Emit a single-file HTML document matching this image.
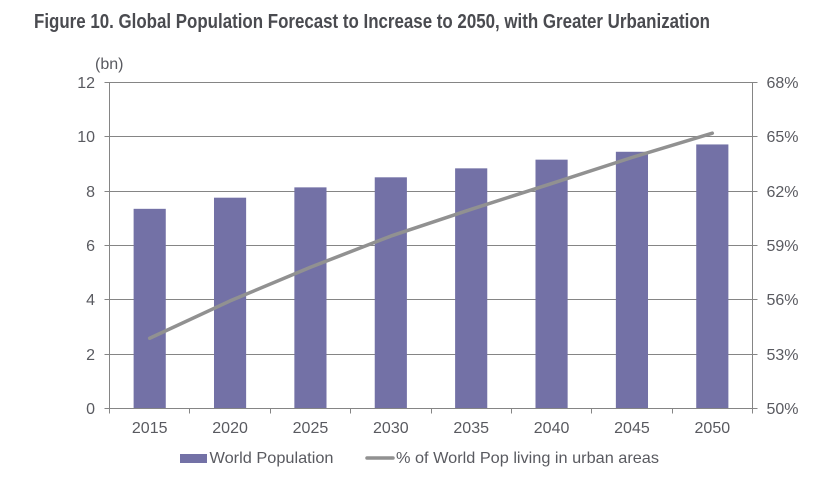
<!DOCTYPE html>
<html lang="en">
<head>
<meta charset="utf-8">
<title>Global Population Forecast</title>
<style>
html,body{margin:0;padding:0;background:#fff;width:820px;height:477px;overflow:hidden}
svg{display:block}
text{font-family:"Liberation Sans",Arial,sans-serif;fill:#595a60}
</style>
</head>
<body>
<svg id="chart" width="820" height="477" viewBox="0 0 820 477" xmlns="http://www.w3.org/2000/svg">
<text x="34" y="28" font-size="20" font-weight="bold" textLength="676" lengthAdjust="spacingAndGlyphs" style="fill:#4a4b50">Figure 10. Global Population Forecast to Increase to 2050, with Greater Urbanization</text>
<text x="95" y="69" font-size="16">(bn)</text>
<g id="grid"></g>
<g id="bars"></g>
<g id="axes"></g>
<g id="line"></g>
<g id="labels"></g>
<rect x="180" y="454" width="27" height="9" fill="#7371a6"/>
<text x="209.5" y="463" font-size="16" textLength="124" lengthAdjust="spacingAndGlyphs">World Population</text>
<line x1="367" y1="458" x2="393" y2="458" stroke="#919191" stroke-width="3.5" stroke-linecap="round"/>
<text x="396" y="463" font-size="16" textLength="263" lengthAdjust="spacingAndGlyphs">% of World Pop living in urban areas</text>
</svg>
<script>
const categories = ['2015','2020','2025','2030','2035','2040','2045','2050'];
const populationValues = [7.35,7.76,8.14,8.51,8.84,9.16,9.45,9.72];
const urbanShareValues = [53.88,55.94,57.8,59.52,61.0,62.42,63.86,65.2];
const leftTicks = [0,2,4,6,8,10,12];
const rightTicks = [50,53,56,59,62,65,68];

const NS = 'http://www.w3.org/2000/svg';
const plot = {left:109.5, right:752.5, top:82.5, bottom:408.5};
const band = (plot.right - plot.left) / categories.length;
const barWidth = band * 0.4;
function xEdge(i){ return plot.left + band * i; }
function xCenter(i){ return plot.left + band * (i + 0.5); }
function yLeft(v){ return plot.bottom - (v - leftTicks[0]) / (leftTicks[leftTicks.length-1] - leftTicks[0]) * (plot.bottom - plot.top); }
function yRight(v){ return plot.bottom - (v - rightTicks[0]) / (rightTicks[rightTicks.length-1] - rightTicks[0]) * (plot.bottom - plot.top); }
function make(tag, attrs, parent, content){
  const el = document.createElementNS(NS, tag);
  for (const k in attrs) el.setAttribute(k, attrs[k]);
  if (content !== undefined) el.textContent = content;
  document.getElementById(parent).appendChild(el);
  return el;
}
const axisColor = '#858585';

leftTicks.forEach(function(t){
  const y = Math.round(yLeft(t) - 0.5) + 0.5;
  const g = make('line', {x1:plot.left-5, x2:plot.right+5, y1:y, y2:y, stroke:axisColor, 'stroke-width':1}, 'grid');
  
  
  const l = make('text', {x:95, y:y+5.5, 'font-size':16, 'text-anchor':'end'}, 'labels', String(t));
  
  
});

rightTicks.forEach(function(t){
  const y = Math.round(yRight(t) - 0.5) + 0.5;
  const l = make('text', {x:766.5, y:y+5.5, 'font-size':16}, 'labels', t + '%');
  
  
});

categories.forEach(function(c, i){
  const top = yLeft(populationValues[i]);
  const b = make('rect', {x:xCenter(i)-barWidth/2, y:top, width:barWidth, height:plot.bottom-top, fill:'#7371a6'}, 'bars');
  
  
  const l = make('text', {x:xCenter(i), y:433, 'font-size':16, 'text-anchor':'middle'}, 'labels', c);
  
  
});

for (let i = 0; i <= categories.length; i++){
  const x = Math.round(xEdge(i) - 0.5) + 0.5;
  const t = make('line', {x1:x, x2:x, y1:plot.bottom, y2:plot.bottom+5, stroke:axisColor, 'stroke-width':1}, 'axes');
  
  
}
const leftAxis = make('line', {x1:plot.left, x2:plot.left, y1:plot.top, y2:plot.bottom, stroke:axisColor, 'stroke-width':1}, 'axes');


const rightAxis = make('line', {x1:plot.right, x2:plot.right, y1:plot.top, y2:plot.bottom, stroke:axisColor, 'stroke-width':1}, 'axes');


const baseAxis = make('line', {x1:plot.left, x2:plot.right, y1:plot.bottom, y2:plot.bottom, stroke:axisColor, 'stroke-width':1}, 'axes');



const pts = urbanShareValues.map(function(v, i){ return xCenter(i) + ',' + yRight(v); }).join(' ');
const urbanLine = make('polyline', {points:pts, fill:'none', stroke:'#919191', 'stroke-width':3.5, 'stroke-linejoin':'round', 'stroke-linecap':'round'}, 'line');


</script>
</body>
</html>
